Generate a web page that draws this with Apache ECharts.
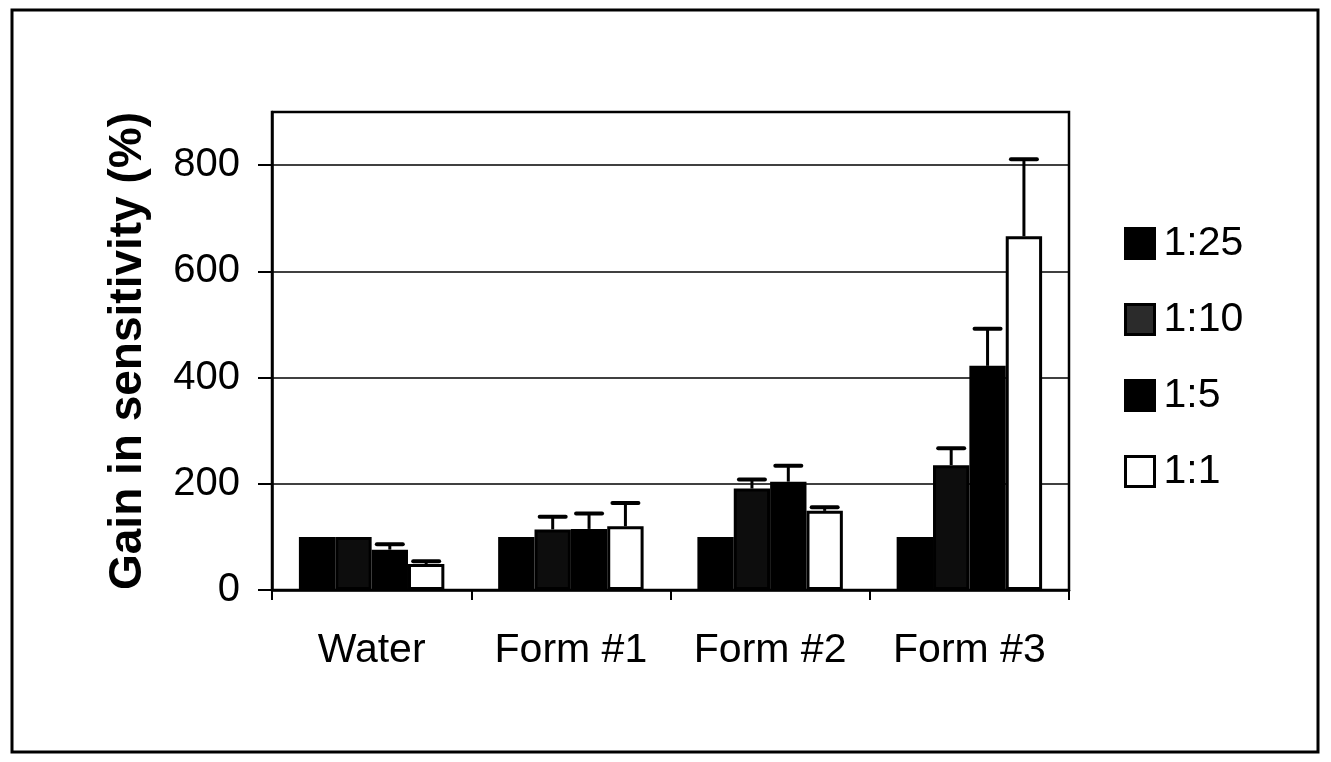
<!DOCTYPE html>
<html>
<head>
<meta charset="utf-8">
<script src="https://cdn.jsdelivr.net/npm/echarts@6/dist/echarts.min.js"></script>
<style>
html,body{margin:0;padding:0;background:#fff;}
#chart{width:1331px;height:762px;}
</style>
</head>
<body>
<div id="chart"></div>
<script>
// ---- data ----
var categories = ['Water', 'Form #1', 'Form #2', 'Form #3'];
var seriesNames = ['1:25', '1:10', '1:5', '1:1'];
var gain125 = [100, 100, 100, 100];
var gain110 = [100, 114, 191, 235];
var gain15  = [76, 115, 204, 422];
var gain11  = [49, 120, 149, 666];
var err125 = [0, 0, 0, 0];
var err110 = [0, 24, 17, 32];
var err15  = [10, 29, 30, 70];
var err11  = [5, 44, 7, 145];
var yTicks = [0, 200, 400, 600, 800];
var yTitle = 'Gain in sensitivity (%)';

var values = [gain125, gain110, gain15, gain11];
var errors = [err125, err110, err15, err11];
var fills = ['#000000', '#0d0d0d', '#000000', '#ffffff'];
var legendFills = ['#000000', '#2b2b2b', '#000000', '#ffffff'];
var FONT = '"Liberation Sans", Arial, Helvetica, sans-serif';
var CAT_GAP = 0.27;

var chart = echarts.init(document.getElementById('chart'));

function makeErr(si) {
  var d = [];
  for (var i = 0; i < categories.length; i++) {
    if (errors[si][i] > 0) d.push([i, values[si][i], values[si][i] + errors[si][i]]);
  }
  return {
    type: 'custom',
    name: 'err' + si,
    z: 5,
    silent: true,
    data: d,
    renderItem: function (params, api) {
      var ci = api.value(0);
      var base = api.coord([ci, api.value(1)]);
      var top = api.coord([ci, api.value(2)]);
      var catW = api.size([1, 0])[0];
      var groupW = catW * (1 - CAT_GAP);
      var bw = groupW / 4;
      var x = base[0] - groupW / 2 + bw * (si + 0.5);
      var half = 13;
      return {
        type: 'group',
        children: [
          { type: 'line', shape: { x1: x, y1: base[1], x2: x, y2: top[1] }, style: { stroke: '#000', lineWidth: 3 } },
          { type: 'line', shape: { x1: x - half, y1: top[1], x2: x + half, y2: top[1] }, style: { stroke: '#000', lineWidth: 4, lineCap: 'round' } }
        ]
      };
    }
  };
}

var series = [];
for (var s = 0; s < 4; s++) {
  series.push({
    type: 'bar',
    name: seriesNames[s],
    data: values[s],
    barGap: '0%',
    barCategoryGap: (CAT_GAP * 100) + '%',
    itemStyle: { color: fills[s], borderColor: '#000', borderWidth: 3 },
    emphasis: { disabled: true }
  });
}
for (var s2 = 0; s2 < 4; s2++) series.push(makeErr(s2));

var legendData = seriesNames.map(function (n, i) {
  return { name: n, itemStyle: { color: legendFills[i], borderColor: '#000', borderWidth: 3 } };
});

var option = {
  backgroundColor: '#ffffff',
  animation: false,
  grid: {
    left: 272, right: 262, top: 112, bottom: 172,
    show: true, borderColor: '#000', borderWidth: 2.5, backgroundColor: 'transparent'
  },
  legend: {
    data: legendData,
    orient: 'vertical',
    left: 1119,
    top: 218,
    itemWidth: 29,
    itemHeight: 30,
    itemGap: 35,
    icon: 'rect',
    textStyle: { fontSize: 41, fontFamily: FONT, color: '#000', lineHeight: 41, padding: [0, 0, 0, 4] },
    selectedMode: false
  },
  xAxis: {
    type: 'category',
    data: categories,
    axisLine: { lineStyle: { color: '#000', width: 2.5 } },
    axisTick: { show: true, length: 10, lineStyle: { color: '#000', width: 2 } },
    axisLabel: { fontSize: 41, fontFamily: FONT, color: '#000', margin: 40 },
    splitLine: { show: false }
  },
  yAxis: {
    type: 'value',
    min: 0,
    max: 900,
    interval: 200,
    axisLine: { show: true, lineStyle: { color: '#000', width: 2.5 } },
    axisTick: { show: true, length: 14, lineStyle: { color: '#000', width: 2 },
      customValues: yTicks },
    axisLabel: { fontSize: 40, fontFamily: FONT, color: '#000', margin: 32,
      customValues: yTicks },
    splitLine: { show: true, lineStyle: { color: '#000', width: 1.5 } }
  },
  graphic: [
    { type: 'rect', shape: { x: 12, y: 10, width: 1306, height: 742 },
      style: { fill: 'none', stroke: '#000', lineWidth: 3 }, z: 100 },
    { type: 'text', x: 128, y: 351, rotation: Math.PI / 2,
      style: { text: yTitle, font: 'bold 46px ' + FONT, fill: '#000',
        align: 'center', verticalAlign: 'middle' } }
  ],
  series: series
};
chart.setOption(option);
</script>
</body>
</html>
